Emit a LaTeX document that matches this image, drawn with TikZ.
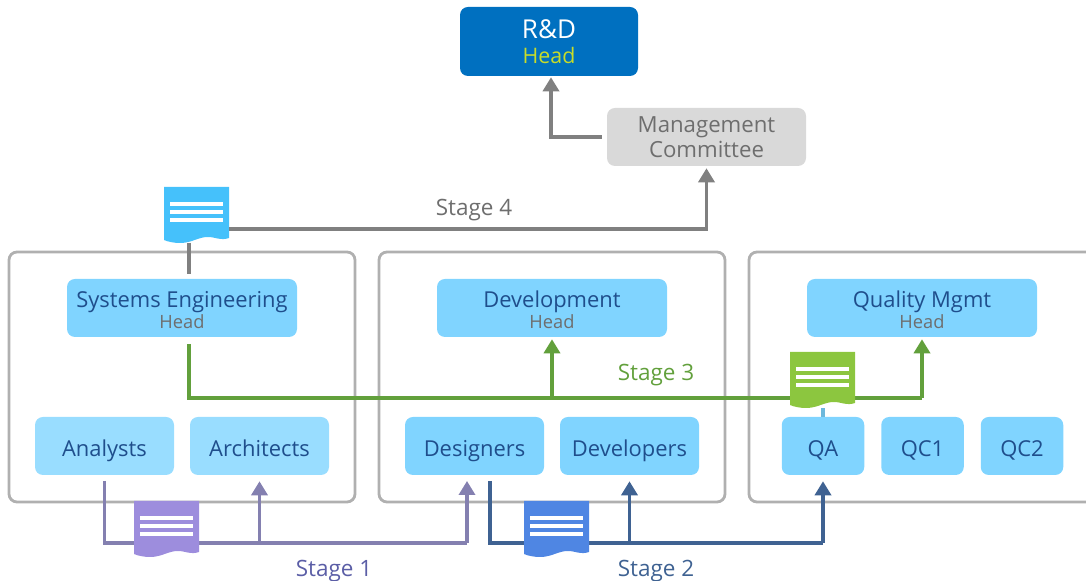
\documentclass[tikz,border=0pt]{standalone}
\usepackage{fontspec}
\setmainfont{Open Sans}
\usetikzlibrary{arrows.meta}
\definecolor{rdblue}{HTML}{0070C0}
\definecolor{headyellow}{HTML}{C8DC28}
\definecolor{boxblue}{HTML}{80D4FF}
\definecolor{boxpale}{HTML}{99DDFF}
\definecolor{boxtext}{HTML}{1F4E8C}
\definecolor{headgray}{HTML}{6E6E6E}
\definecolor{mgmtgray}{HTML}{D9D9D9}
\definecolor{panelgray}{HTML}{B0B0B0}
\definecolor{linegray}{HTML}{808080}
\definecolor{linegreen}{HTML}{62A03C}
\definecolor{linepurple}{HTML}{8480B0}
\definecolor{lineblue}{HTML}{3F6292}
\definecolor{linepale}{HTML}{6DB8DC}
\definecolor{labelpurple}{HTML}{5B5EA6}
\definecolor{docsky}{HTML}{45C1FB}
\definecolor{docpurple}{HTML}{9D8DDD}
\definecolor{docblue}{HTML}{4F86E3}
\definecolor{docgreen}{HTML}{8CC63F}
\newcommand{\headline}[1]{{\fontsize{13}{15.6}\selectfont #1}}
\tikzset{
  panelbox/.style={draw=panelgray,line width=.07cm,rounded corners=.2cm,
    minimum width=8.65cm,minimum height=6.25cm},
  unitbox/.style={rounded corners=.2cm,inner sep=0pt,align=center,text=boxtext,
    font=\fontsize{15.6}{15.6}\selectfont},
  headbox/.style={unitbox,fill=boxblue,minimum width=5.75cm,minimum height=1.45cm,
    text height=1.05cm,text depth=0pt},
  teambox/.style={unitbox,fill=boxblue,minimum width=3.475cm,minimum height=1.45cm,
    text height=.55cm,text depth=0pt},
  qcbox/.style={teambox,minimum width=2.0625cm},
  stageline/.style={line width=.085cm},
  stagearrow/.style={stageline,-{Triangle[width=.4cm,length=.35cm]}},
  stagelabel/.style={font=\fontsize{16}{18}\selectfont,inner sep=0pt},
  docicon/.pic={
    \fill[pic actions] (0,0) -- (1.625,0) -- (1.625,-1.275)
      .. controls (1.4,-1.35) and (1.3,-1.25) .. (1.1,-1.25)
      .. controls (.85,-1.25) and (.7,-1.4) .. (.4,-1.4)
      .. controls (.25,-1.4) and (.1,-1.37) .. (0,-1.325) -- cycle;
    \fill[white] (.15,-.375) rectangle (1.475,-.475);
    \fill[white] (.15,-.575) rectangle (1.475,-.675);
    \fill[white] (.15,-.775) rectangle (1.475,-.875);
    \coordinate (-east) at (1.625,-1.05);
    \coordinate (-south) at (.625,-1.39);
  }
}
\begin{document}
\begin{tikzpicture}
\useasboundingbox (0,0) rectangle (27.15,14.525);
% panels
\node[panelbox] (panelse) at (4.55,5.1) {};
\node[panelbox] (paneldev) at (13.8,5.1) {};
\node[panelbox] (panelqm) at (23.05,5.1) {};
%
\node[unitbox,fill=rdblue,text=white,minimum width=4.45cm,minimum height=1.725cm,
  font=\fontsize{18.5}{17.8}\selectfont] (rd) at (13.725,13.4875)
  {R\&D\\\textcolor{headyellow}{\fontsize{15.2}{17.8}\selectfont Head}};
\node[unitbox,fill=mgmtgray,text=headgray,minimum width=4.975cm,minimum height=1.45cm,
  font=\fontsize{15.8}{17.8}\selectfont] (mgmt) at (17.6625,11.1) {Management\\Committee};
%
\node[headbox] (se) at (4.55,6.825) {Systems Engineering\\\textcolor{headgray}{\headline{Head}}};
\node[headbox] (dev) at (13.8,6.825) {Development\\\textcolor{headgray}{\headline{Head}}};
\node[headbox] (qm) at (23.05,6.825) {Quality Mgmt\\\textcolor{headgray}{\headline{Head}}};
%
\node[teambox,fill=boxpale] (analysts) at (2.6125,3.375) {Analysts};
\node[teambox,fill=boxpale] (architects) at (6.4875,3.375) {Architects};
\node[teambox] (designers) at (11.8625,3.375) {Designers};
\node[teambox] (developers) at (15.7375,3.375) {Developers};
\node[qcbox] (qa) at (20.575,3.375) {QA};
\node[qcbox] (qcone) at (23.0625,3.375) {QC1};
\node[qcbox] (qctwo) at (25.55,3.375) {QC2};
% free ends of the stage lines
\coordinate (startone) at (2.6125,2.5);
\coordinate (busone) at (11.675,.95);
\coordinate (intodesigners) at (11.675,2.5);
\coordinate (starttwo) at (12.25,2.5);
\coordinate (bustwo) at (20.575,.95);
\coordinate (startthree) at (4.725,5.925);
\coordinate (busthree) at (23.05,4.575);
% stage 1
\draw[stageline,linepurple] (startone) |- (busone);
\draw[stagearrow,linepurple] (busone) -- (intodesigners);
\draw[stagearrow,linepurple] (architects.south |- busone) -- ([yshift=-.15cm]architects.south);
% stage 2
\draw[stageline,lineblue] (starttwo) |- (bustwo);
\draw[stagearrow,lineblue] (bustwo) -- ([yshift=-.15cm]qa.south);
\draw[stagearrow,lineblue] (developers.south |- bustwo) -- ([yshift=-.15cm]developers.south);
% stage 3
\draw[stageline,linegreen] (startthree) |- (busthree);
\draw[stagearrow,linegreen] (busthree) -- ([yshift=-.05cm]qm.south);
\draw[stagearrow,linegreen] (dev.south |- busthree) -- ([yshift=-.05cm]dev.south);
% documents
\pic[fill=docsky] (docse) at (4.1,9.85) {docicon};
\pic[fill=docpurple] (docone) at (3.35,2) {docicon};
\pic[fill=docblue] (doctwo) at (13.1,2) {docicon};
\pic[fill=docgreen] (docqm) at (19.75,5.725) {docicon};
% stage 4
\draw[stageline,linegray,shorten >=.125cm] (docse-south) -- (docse-south |- se.north);
\draw[stagearrow,linegray] (docse-east) -| ([yshift=-.05cm]mgmt.south);
\draw[stagearrow,linegray,shorten <=.125cm] (mgmt.west) -| ([xshift=.05cm,yshift=-.025cm]rd.south);
\draw[stageline,linepale] (qa.north) -- (qa.north |- docqm-south);
%
\node[stagelabel,text=labelpurple] (labelone) at (8.35,.25) {Stage 1};
\node[stagelabel,text=lineblue] (labeltwo) at (16.4,.25) {Stage 2};
\node[stagelabel,text=linegreen] (labelthree) at (16.4,5.15) {Stage 3};
\node[stagelabel,text=headgray] (labelfour) at (11.85,9.275) {Stage 4};
\end{tikzpicture}
\end{document}
